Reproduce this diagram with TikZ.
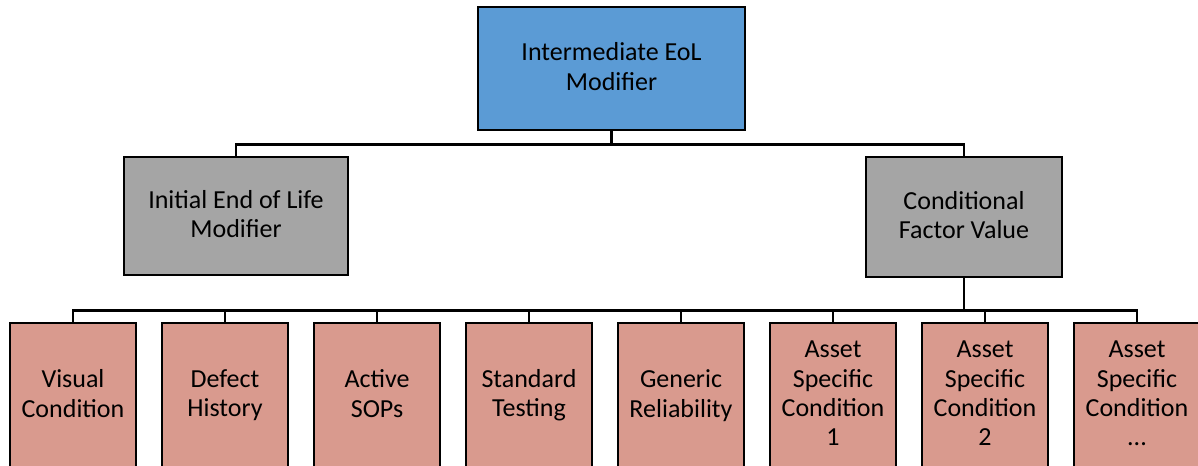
\documentclass[tikz,border=0pt]{standalone}
\usepackage{fontspec}
\setmainfont{Carlito}
\usepackage{xcolor}
\usepackage{tikz}

\definecolor{eolblue}{RGB}{91,155,213}
\definecolor{eolgray}{RGB}{165,165,165}
\definecolor{eolpink}{RGB}{217,154,142}
\newcommand\boxstrut{\rule[-3pt]{0pt}{23pt}}

\begin{document}
\begin{tikzpicture}[x=0.75pt, y=-0.75pt]
			\tikzstyle{box} = [draw, line width=2.2pt, inner sep=0pt, align=center, font=\fontsize{19.5}{22}\selectfont, execute at begin node=\boxstrut, execute at end node=\boxstrut]
			\tikzstyle{top} = [box, fill=eolblue]
			\tikzstyle{mid} = [box, fill=eolgray]
			\tikzstyle{leaf} = [box, fill=eolpink, minimum width=126*0.75pt, minimum height=145*0.75pt]
			\tikzset{edge/.style = {-, line width=2.2pt}}
			
			\clip (0,0) rectangle (1198,466);
			
			\node[top, minimum width=267*0.75pt, minimum height=123*0.75pt](eol) at (611.5,68.5) {Intermediate EoL\\Modifier};
			\node[mid, minimum width=224*0.75pt, minimum height=118*0.75pt](initial) at (236,216) {Initial End of Life\\Modifier};
			\node[mid, minimum width=196*0.75pt, minimum height=120*0.75pt](cond) at (964,217) {Conditional\\Factor Value};
			\draw[edge](eol.south) -- ++(0,13) -| (initial.north);
			\draw[edge](eol.south) -- ++(0,13) -| (cond.north);
			
			\node[leaf](visual) at (73,395.5) {Visual\\Condition};
			\node[leaf](defect) at (225,395.5) {Defect\\History};
			\node[leaf](sops) at (377,395.5) {Active\\SOPs};
			\node[leaf](testing) at (529,395.5) {Standard\\Testing};
			\node[leaf](generic) at (681,395.5) {Generic\\Reliability};
			\node[leaf](asset1) at (833,395.5) {Asset\\Specific\\Condition\\1};
			\node[leaf](asset2) at (985,395.5) {Asset\\Specific\\Condition\\2};
			\node[leaf](assetn) at (1137,395.5) {Asset\\Specific\\Condition\\...};
			
			\draw[edge](cond.south) -- ++(0,32) -| (visual.north);
			\draw[edge](cond.south) -- ++(0,32) -| (defect.north);
			\draw[edge](cond.south) -- ++(0,32) -| (sops.north);
			\draw[edge](cond.south) -- ++(0,32) -| (testing.north);
			\draw[edge](cond.south) -- ++(0,32) -| (generic.north);
			\draw[edge](cond.south) -- ++(0,32) -| (asset1.north);
			\draw[edge](cond.south) -- ++(0,32) -| (asset2.north);
			\draw[edge](cond.south) -- ++(0,32) -| (assetn.north);
			
			\end{tikzpicture}
\end{document}
